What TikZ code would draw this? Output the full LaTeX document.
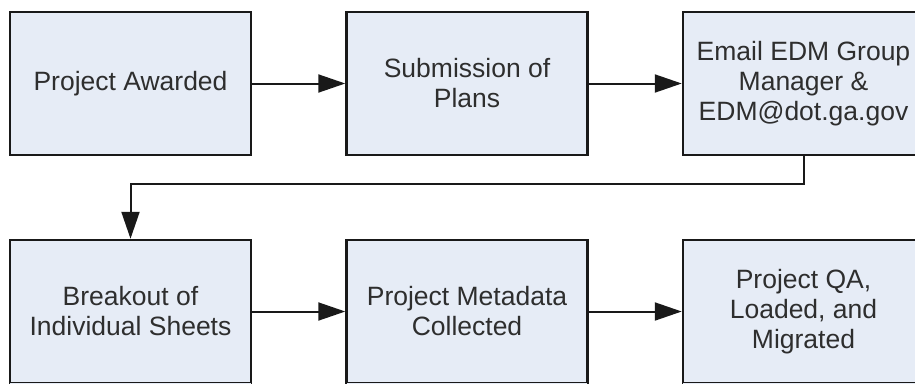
\documentclass[tikz,border=0pt]{standalone}
\usepackage{fontspec}
\setmainfont{Liberation Sans}
\usetikzlibrary{arrows.meta}
\definecolor{boxfill}{HTML}{E6ECF6}
\definecolor{boxtext}{HTML}{2E2E2E}
\tikzset{
 stagebox/.style={draw=black!90,line width=2.5pt,fill=boxfill,text=boxtext,
  minimum width=241pt,minimum height=143pt,align=center,
  font=\fontsize{26.5}{30}\selectfont},
 flow/.style={-{Triangle[length=27pt,width=18pt]},line width=2pt,black!90}
}
\begin{document}
\begin{tikzpicture}[x=1pt,y=-1pt]
 \useasboundingbox (0,0) rectangle (915,383);
 \clip (0,0) rectangle (915,383);
 \fill[white] (0,0) rectangle (915,383); %background
 \node[stagebox] (awarded) at (130.5,83.5) {Project Awarded};
 \node[stagebox] (plans) at (467,83.5) {Submission of\\Plans};
 \node[stagebox] (email) at (803.5,83.5) {Email EDM Group\\Manager \&\\EDM@dot.ga.gov};
 \node[stagebox] (breakout) at (130.5,311.5) {Breakout of\\Individual Sheets};
 \node[stagebox] (metadata) at (467,311.5) {Project Metadata\\Collected};
 \node[stagebox] (migrated) at (803.5,311.5) {Project QA,\\Loaded, and\\Migrated};
 \foreach \b in {breakout,metadata,migrated}
  \fill[boxfill] ([xshift=1.3pt,yshift=1.4pt]\b.south west) rectangle ([xshift=-1.3pt,yshift=-5pt]\b.south east); %boxes run past the lower edge
 \draw[flow] (awarded)--(plans);
 \draw[flow] (plans)--(email);
 \draw[flow] (email.south)--++(0,28)-|(breakout.north); %wrap to second row
 \draw[flow] (breakout)--(metadata);
 \draw[flow] (metadata)--(migrated);
\end{tikzpicture}
\end{document}
